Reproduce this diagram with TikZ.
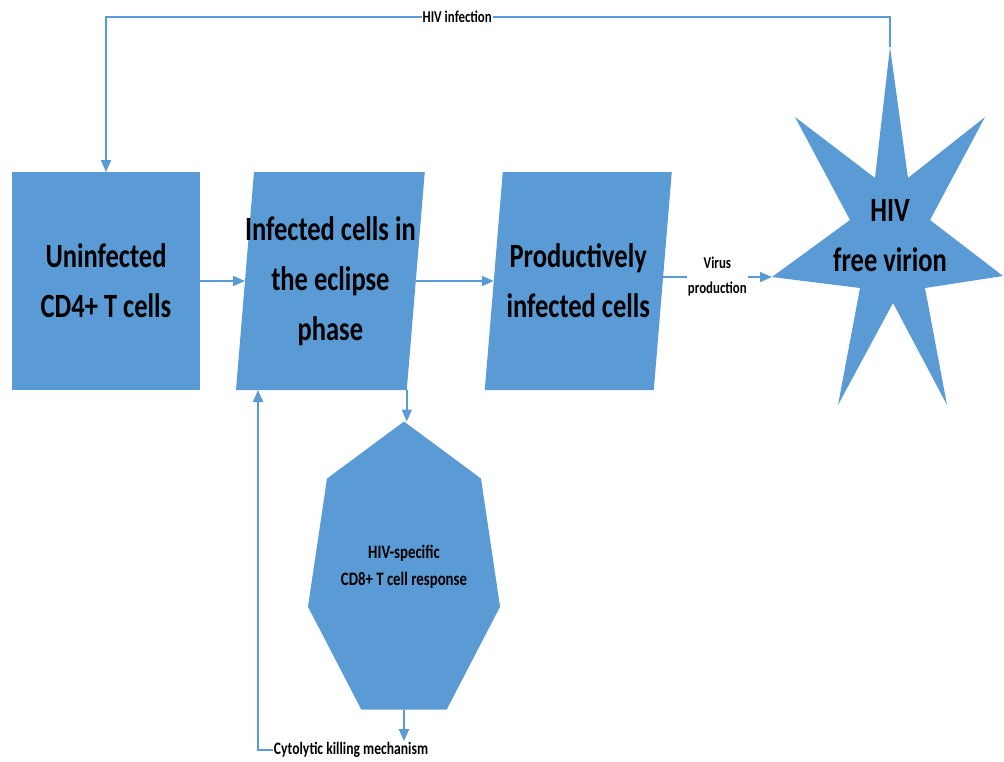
\documentclass[tikz,border=0pt]{standalone}
\usepackage{fontspec}
\newfontfamily\cellfont{Carlito}[FakeStretch=0.78]
\usetikzlibrary{arrows.meta,backgrounds,calc,positioning}
\definecolor{cellblue}{HTML}{5B9BD5}
\newcommand{\bigtext}{\cellfont\bfseries\fontsize{34}{50}\selectfont}
\newcommand{\midtext}{\cellfont\bfseries\fontsize{19}{27}\selectfont}
\newcommand{\smalltext}{\cellfont\bfseries\fontsize{16.5}{25}\selectfont}

\begin{document}
\begin{tikzpicture}[x=1pt,y=-1pt,>={Triangle[length=12pt,width=10pt]},
    cell/.style={text=black,font=\bigtext,align=center,inner sep=0pt,outer sep=0pt,minimum height=218pt},
    link/.style={->,draw=cellblue,line width=1.8pt},
    lbl/.style={fill=white,text=black,font=\smalltext,align=center,inner sep=1pt}]

            \useasboundingbox (0,0) rectangle (1004,761);

            \node[cell,fill=cellblue,minimum width=188pt] (uninf) at (106,281) {Uninfected\\CD4+ T cells};

            \node[cell,minimum width=169pt] (eclipse) [right=45pt of uninf] {Infected cells in\\the eclipse\\phase};

            \node[cell,minimum width=169pt] (prod) [right=78pt of eclipse] {Productively\\infected cells};

            % the two slanted boxes, drawn under their text
            \begin{scope}[on background layer]
                \foreach \n in {eclipse,prod}
                    \fill[cellblue] ([xshift=-9pt]\n.south west) -- ([xshift=9pt]\n.north west)
                        -- ([xshift=9pt]\n.north east) -- ([xshift=-9pt]\n.south east) -- cycle;
            \end{scope}

            % seven-pointed star for the free virion
            \fill[cellblue] (890,47) coordinate (v-top) -- (908,178) -- (985,117) -- (930,220)
                -- (1003,276) -- (925,288) -- (947,405) -- (893,303) -- (838,405) -- (860,288)
                -- (772,277) coordinate (v-left) -- (850,220) -- (795,117) -- (875,178) -- cycle;
            \node[font=\bigtext,align=center] (virion) at (890,236) {HIV\\free virion};

            % heptagon for the CD8+ response
            \coordinate (cd8c) at (404,573);
            \foreach \k in {0,...,6}
                \coordinate (h\k) at ($(cd8c)+(270+\k*360/7:98.5 and 151.5)$);
            \fill[cellblue] (h0) -- (h1) -- (h2) -- (h3) -- (h4) -- (h5) -- (h6) -- cycle;
            \node[font=\midtext,align=center] (cd8) at (404,567) {HIV-specific\\CD8+ T cell response};

            \node[lbl,font=\cellfont\bfseries\fontsize{17.5}{22}\selectfont] (kill) at (351,750) {Cytolytic killing mechanism};
            \coordinate (hivline) at (0,17);
            \coordinate (hbot) at ($(h3)!0.5!(h4)$);

            \draw[link] (uninf) -- (eclipse);
            \draw[link] (eclipse) -- (prod);
            \draw[link] (prod.east |- v-left) -- node[lbl] {Virus\\production} (v-left);
            \draw[link] (v-top) |- node[lbl,pos=0.776] {HIV infection} (uninf.north |- hivline) -- (uninf.north);
            \draw[link] ([xshift=-9pt]eclipse.south east) -- ([xshift=-9pt]eclipse.south east |- h0);
            \draw[link] (hbot) -- (hbot |- kill.north);
            \draw[link] (kill.west) -| ([xshift=13pt]eclipse.south west);

        \end{tikzpicture}
\end{document}
